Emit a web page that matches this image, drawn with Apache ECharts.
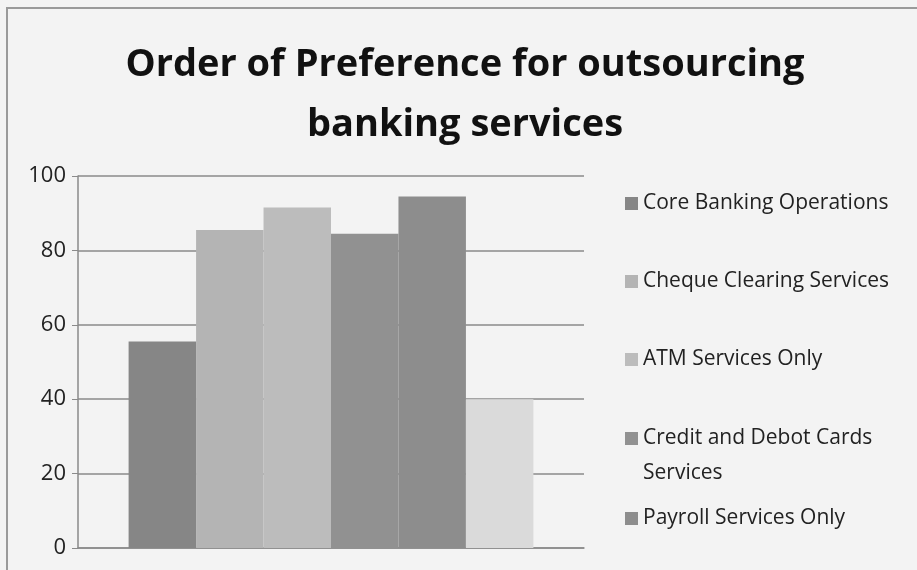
<!DOCTYPE html>
<html>
<head>
<meta charset="utf-8">
<script src="https://cdn.jsdelivr.net/npm/echarts@6/dist/echarts.min.js"></script>
<style>
  html, body { margin: 0; padding: 0; background: #f3f3f3; }
  #chart { width: 917px; height: 570px; }
</style>
</head>
<body>
<div id="chart"></div>
<script>
const titleText = 'Order of Preference for outsourcing\nbanking services'
const seriesNames = [
  'Core Banking Operations',
  'Cheque Clearing Services',
  'ATM Services Only',
  'Credit and Debot Cards Services',
  'Payroll Services Only',
  'Other Services'
]
const seriesValues = [55.5, 85.5, 91.5, 84.5, 94.5, 40]
const seriesColors = ['#868686', '#b4b4b4', '#bcbcbc', '#919191', '#8d8d8d', '#dadada']
const legendNames = seriesNames.slice(0, 5)
const yTicks = { min: 0, max: 100, interval: 20 }

const chart = echarts.init(document.getElementById('chart'))

const font = '"Open Sans", "Liberation Sans", sans-serif'
// the wrapped item gets a blank first line so its icon sits beside the first text line
const legendTops = [181, 259, 337, 381, 496]

const legends = legendNames.map((name, i) => {
  const twoLine = name === 'Credit and Debot Cards Services'
  return {
    data: [name],
    orient: 'vertical',
    left: 620,
    top: legendTops[i],
    itemWidth: 13,
    itemHeight: 13,
    icon: 'rect',
    selectedMode: false,
    formatter: (n) => (twoLine ? '{t| }\n{t|Credit and Debot Cards}\n{t|Services}' : n),
    textStyle: {
      fontFamily: font,
      fontSize: 21,
      color: '#222',
      lineHeight: 35,
      rich: { t: { fontFamily: font, fontSize: 21, color: '#222', lineHeight: 35 } }
    }
  }
})

chart.setOption({
  backgroundColor: '#f3f3f3',
  title: {
    text: titleText,
    left: 460,
    top: 30,
    textAlign: 'center',
    textStyle: {
      fontFamily: font,
      fontWeight: 'bold',
      fontSize: 38,
      lineHeight: 60,
      color: '#111'
    }
  },
  legend: legends,
  grid: { left: 78, right: 333, top: 176, bottom: 22 },
  xAxis: {
    type: 'category',
    data: [''],
    axisLine: { lineStyle: { color: '#8a8a8a', width: 1.5 } },
    axisTick: { show: false },
    axisLabel: { show: false }
  },
  yAxis: {
    type: 'value',
    min: yTicks.min,
    max: yTicks.max,
    interval: yTicks.interval,
    axisLine: { show: true, lineStyle: { color: '#8a8a8a', width: 1.5 } },
    axisTick: { show: true, length: 6, lineStyle: { color: '#8a8a8a' } },
    axisLabel: { fontFamily: font, fontSize: 22, color: '#222', margin: 12 },
    splitLine: { lineStyle: { color: '#8a8a8a', width: 1.5 } }
  },
  series: seriesNames.map((name, i) => ({
    name,
    type: 'bar',
    data: [seriesValues[i]],
    barGap: '0%',
    barCategoryGap: '20%',
    itemStyle: { color: seriesColors[i] }
  })),
  graphic: [
    {
      type: 'polyline',
      shape: { points: [[7, 570], [7, 8], [917, 8]] },
      style: { stroke: '#9a9a9a', lineWidth: 2, fill: null }
    }
  ]
})
</script>
</body>
</html>
